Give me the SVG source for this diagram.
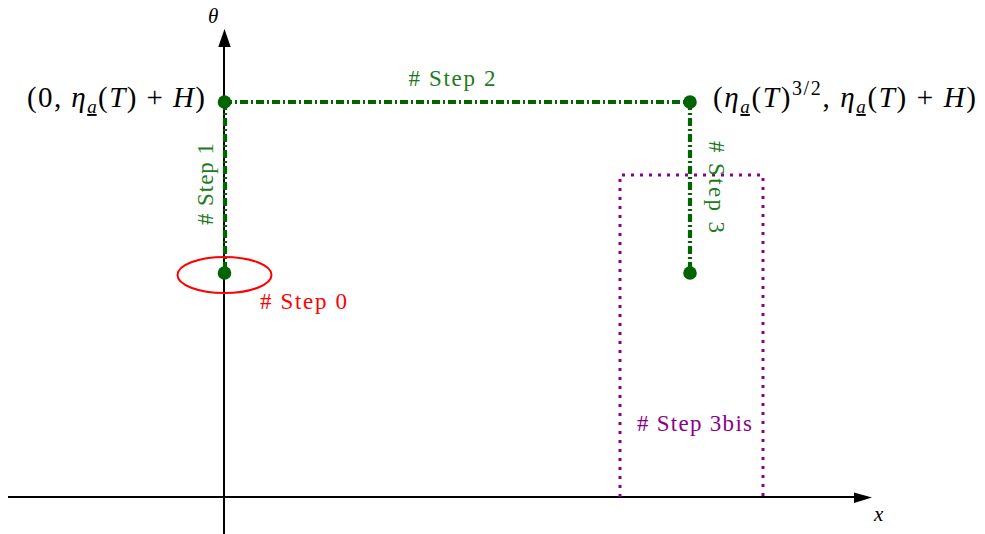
<svg xmlns="http://www.w3.org/2000/svg" width="985" height="534" viewBox="0 0 985 534">
<defs>
<style>
.axis{stroke:#000;stroke-width:2;fill:none}
.head{fill:#000}
.step{stroke:#006400;stroke-width:4.2;fill:none;stroke-dasharray:8 3 2 3}
.bis{stroke:#8b008b;stroke-width:3;fill:none;stroke-dasharray:3 6}
.dot{fill:#006400}
.it{font-style:italic}
.g{fill:#1e7a1e}
</style>
</defs>
<rect width="985" height="534" fill="#fff"/>
<g id="axes">
<line class="axis" x1="8" y1="497" x2="856" y2="497"/>
<polygon class="head" points="872,497.5 854,492.5 854,503"/>
<line class="axis" x1="224" y1="534" x2="224" y2="45"/>
<polygon class="head" points="224.5,29 218.3,47 230.7,47"/>
<text x="208" y="23" font-family="Liberation Serif, DejaVu Serif, serif" font-style="italic" font-size="21">θ</text>
<text x="874" y="521" font-family="Liberation Serif, DejaVu Serif, serif" font-style="italic" font-size="21">x</text>
</g>
<g id="connectors">
<line class="step" x1="224" y1="102" x2="690" y2="102"/>
<line class="step" x1="225" y1="102" x2="225" y2="273"/>
<line class="step" x1="690" y1="102" x2="690" y2="273"/>
<polyline class="bis" points="620,497 620,175 763,175 763,497"/>
</g>
<g id="step0">
<ellipse cx="224.5" cy="275" rx="47" ry="18" fill="none" stroke="#ff0000" stroke-width="2"/>
<text x="260" y="309" font-family="Liberation Serif, DejaVu Serif, serif" font-size="23" fill="#ff0000" textLength="87" lengthAdjust="spacing"># Step 0</text>
</g>
<g id="node-start"><circle class="dot" cx="224.5" cy="273" r="6.8"/></g>
<g id="node-top-left">
<circle class="dot" cx="224.5" cy="102" r="6.8"/>
<text x="27" y="107" font-family="Liberation Serif, DejaVu Serif, serif" font-size="29" textLength="178" lengthAdjust="spacing">(0, <tspan class="it">η</tspan><tspan class="it" font-size="19" dy="6" text-decoration="underline">a</tspan><tspan dy="-6">(</tspan><tspan class="it">T</tspan>) + <tspan class="it">H</tspan>)</text>
</g>
<g id="node-top-right">
<circle class="dot" cx="690" cy="102" r="6.8"/>
<text x="713" y="107" font-family="Liberation Serif, DejaVu Serif, serif" font-size="29" textLength="263" lengthAdjust="spacing">(<tspan class="it">η</tspan><tspan class="it" font-size="19" dy="6" text-decoration="underline">a</tspan><tspan dy="-6">(</tspan><tspan class="it">T</tspan>)<tspan font-size="20" dy="-12">3/2</tspan><tspan dy="12">, </tspan><tspan class="it">η</tspan><tspan class="it" font-size="19" dy="6" text-decoration="underline">a</tspan><tspan dy="-6">(</tspan><tspan class="it">T</tspan>) + <tspan class="it">H</tspan>)</text>
</g>
<g id="node-end"><circle class="dot" cx="690" cy="273" r="6.8"/></g>
<g id="step1"><text class="g" x="213" y="184" font-family="Liberation Serif, DejaVu Serif, serif" font-size="23" text-anchor="middle" textLength="82" lengthAdjust="spacing" transform="rotate(-90 213 184)"># Step 1</text></g>
<g id="step2"><text class="g" x="452" y="86" font-family="Liberation Serif, DejaVu Serif, serif" font-size="23" text-anchor="middle" textLength="87" lengthAdjust="spacing"># Step 2</text></g>
<g id="step3"><text class="g" x="709" y="187" font-family="Liberation Serif, DejaVu Serif, serif" font-size="23" text-anchor="middle" textLength="92" lengthAdjust="spacing" transform="rotate(90 709 187)"># Step 3</text></g>
<g id="step3bis"><text x="637" y="431" font-family="Liberation Serif, DejaVu Serif, serif" font-size="23" fill="#8b008b" textLength="115" lengthAdjust="spacing"># Step 3bis</text></g>
</svg>
